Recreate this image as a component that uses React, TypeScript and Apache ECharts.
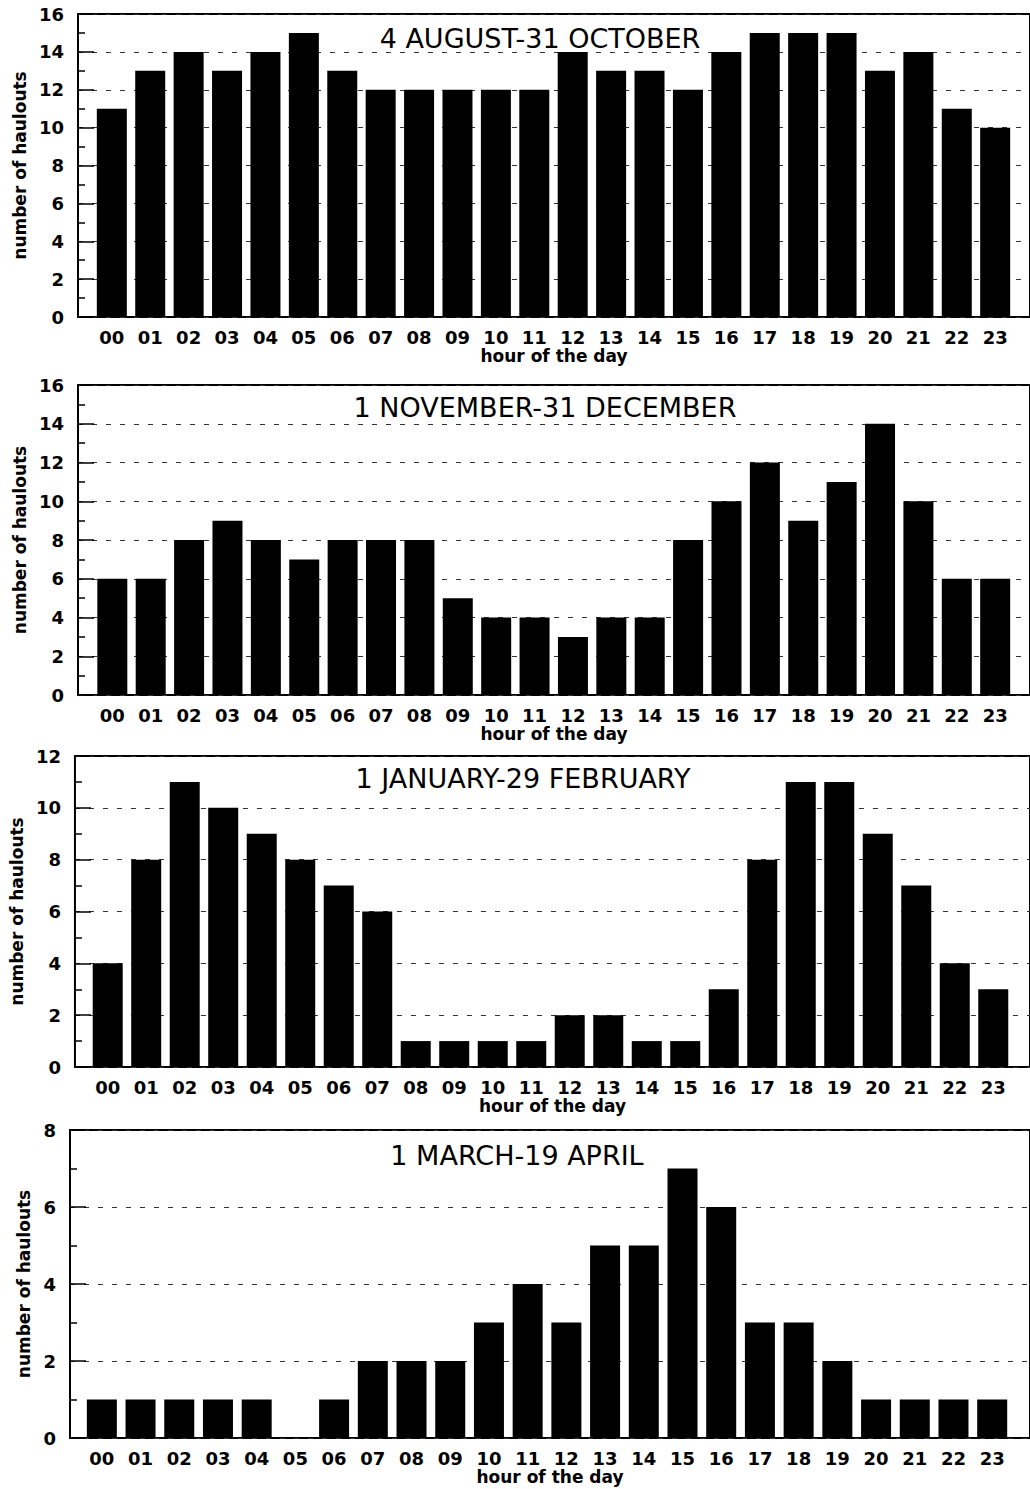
import React, { useEffect, useRef } from "react";
import * as echarts from "echarts";

const HOURS = ["00","01","02","03","04","05","06","07","08","09","10","11","12","13","14","15","16","17","18","19","20","21","22","23"];
const TITLES = ["4 AUGUST-31 OCTOBER", "1 NOVEMBER-31 DECEMBER", "1 JANUARY-29 FEBRUARY", "1 MARCH-19 APRIL"];
const AUG_OCT = [11,13,14,13,14,15,13,12,12,12,12,12,14,13,13,12,14,15,15,15,13,14,11,10];
const NOV_DEC = [6,6,8,9,8,7,8,8,8,5,4,4,3,4,4,8,10,12,9,11,14,10,6,6];
const JAN_FEB = [4,8,11,10,9,8,7,6,1,1,1,1,2,2,1,1,3,8,11,11,9,7,4,3];
const MAR_APR = [1,1,1,1,1,0,1,2,2,2,3,4,3,5,5,7,6,3,3,2,1,1,1,1];
const Y_MAX = [16, 16, 12, 8];
const Y_NAME = "number of haulouts";
const X_NAME = "hour of the day";

const SERIES = [AUG_OCT, NOV_DEC, JAN_FEB, MAR_APR];

// layout (pixels)
const LAYOUT = [
  { left: 78, top: 14, bottom: 317, c0: 112, c23: 1000, tx: 540, ty: 38, nameGap: 46 },
  { left: 78, top: 385, bottom: 695, c0: 112.5, c23: 1000, tx: 545, ty: 407, nameGap: 46 },
  { left: 73, top: 756, bottom: 1067, c0: 106, c23: 998, tx: 523, ty: 778, nameGap: 40 },
  { left: 70, top: 1130, bottom: 1438, c0: 102, c23: 997, tx: 517, ty: 1155, nameGap: 34 },
];
const RIGHT_EDGE = 1035;
const FONT = "DejaVu Sans";

export default function App() {
  const ref = useRef<HTMLDivElement>(null);
  useEffect(() => {
    document.body.style.margin = "0";
    const chart = echarts.init(ref.current!, null, { renderer: "svg" });
    const grids: any[] = [];
    const xAxes: any[] = [];
    const yAxes: any[] = [];
    const series: any[] = [];
    const graphics: any[] = [];
    LAYOUT.forEach((L, i) => {
      const s = (L.c23 - L.c0) / 23;
      const xmin = -(L.c0 - L.left) / s;
      const xmax = 23 + (RIGHT_EDGE - L.c23) / s;
      grids.push({
        left: L.left,
        top: L.top,
        width: RIGHT_EDGE - L.left,
        height: L.bottom - L.top,
        show: true,
        borderColor: "#000",
        borderWidth: 2,
        backgroundColor: "transparent",
        containLabel: false,
      });
      xAxes.push({
        type: "value",
        gridIndex: i,
        min: xmin,
        max: xmax,
        axisLine: { show: false, onZero: false },
        axisTick: { show: false },
        splitLine: { show: false },
        axisLabel: {
          customValues: HOURS.map((_, k) => k),
          formatter: (v: number) => HOURS[Math.round(v)] ?? "",
          color: "#000",
          fontFamily: FONT,
          fontWeight: "bold",
          fontSize: 18,
          margin: 11,
        },
        name: X_NAME,
        nameLocation: "middle",
        nameGap: 30,
        nameTextStyle: { color: "#000", fontFamily: FONT, fontSize: 17, fontWeight: "bold" },
      });
      yAxes.push({
        type: "value",
        gridIndex: i,
        min: 0,
        max: Y_MAX[i],
        interval: 2,
        axisLine: { show: false, onZero: false },
        axisTick: { show: true, inside: true, length: 16, lineStyle: { color: "#000", width: 1.5 } },
        minorTick: { show: true, splitNumber: 2, length: 7, lineStyle: { color: "#000", width: 1.5 } },
        splitLine: { show: true, lineStyle: { color: "#333", width: 1, type: [5, 9] } },
        axisLabel: {
          color: "#000",
          fontFamily: FONT,
          fontWeight: "bold",
          fontSize: 18,
          margin: 14,
        },
        name: Y_NAME,
        nameLocation: "middle",
        nameGap: L.nameGap - 1,
        nameTextStyle: { color: "#000", fontFamily: FONT, fontSize: 17, fontWeight: "bold" },
      });
      series.push({
        type: "bar",
        xAxisIndex: i,
        yAxisIndex: i,
        barWidth: 30,
        itemStyle: { color: "#000" },
        data: SERIES[i].map((v, k) => [k, v]),
      });
      graphics.push({
        type: "text",
        x: L.tx,
        y: L.ty,
        style: {
          text: TITLES[i],
          fill: "#000",
          font: `27px "${FONT}"`,
          textAlign: "center",
          textVerticalAlign: "middle",
        },
      });
    });
    chart.setOption({
      animation: false,
      backgroundColor: "#fff",
      grid: grids,
      xAxis: xAxes,
      yAxis: yAxes,
      series,
      graphic: graphics,
    });
    return () => chart.dispose();
  }, []);
  return <div ref={ref} style={{ width: 1030, height: 1489 }} />;
}
